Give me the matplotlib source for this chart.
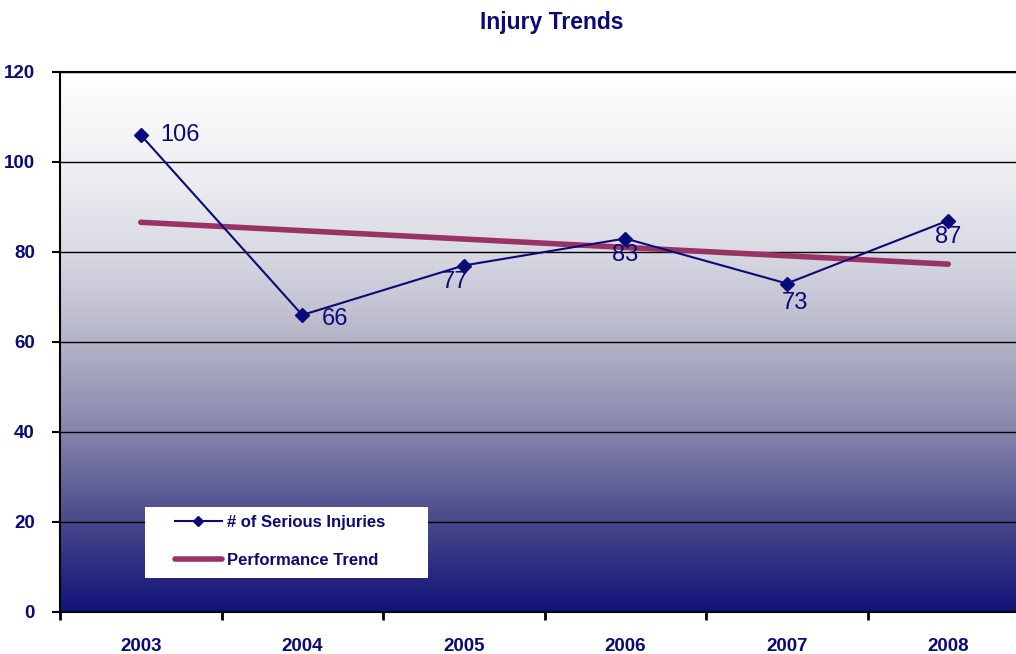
import numpy as np
import matplotlib.pyplot as plt
from matplotlib.colors import LinearSegmentedColormap
from matplotlib.patches import Rectangle

years = ['2003', '2004', '2005', '2006', '2007', '2008']
injuries = [106, 66, 77, 83, 73, 87]
trend_years = ['2003', '2008']
trend_values = [86.6, 77.3]

NAVY = '#0a0a78'
TREND = '#993366'

plt.rcParams['font.family'] = ['Liberation Sans', 'DejaVu Sans']

fig = plt.figure(figsize=(10.16, 6.54), dpi=100)
ax = fig.add_axes([60 / 1016, 42 / 654, 969 / 1016, 540 / 654])

# background gradient, white at the top to navy at the bottom
grad = LinearSegmentedColormap.from_list('bg', [
    (0.0, '#12127a'), (0.17, '#4a4a8c'), (0.33, '#8584aa'),
    (0.5, '#b4b4c8'), (0.67, '#dadae4'), (0.83, '#f0f0f4'), (1.0, '#ffffff')])
ax.imshow(np.linspace(0, 1, 256).reshape(-1, 1), cmap=grad, aspect='auto',
          extent=(-0.5, 5.5, 0, 120), origin='lower', zorder=0)

x = np.arange(len(years))
ax.plot(x, injuries, color=NAVY, lw=1.5, marker='D', ms=7,
        label='# of Serious Injuries', zorder=4)
tx = [years.index(y) for y in trend_years]
ax.plot(tx, trend_values, color=TREND, lw=4, solid_capstyle='round',
        label='Performance Trend', zorder=3)

# value labels
offsets = [(14, 0, 'left', 'center'), (14, -3, 'left', 'center'),
           (-6, -4, 'center', 'top'), (0, -4, 'center', 'top'),
           (6, -6, 'center', 'top'), (0, -4, 'center', 'top')]
for i, v in enumerate(injuries):
    dx, dy, ha, va = offsets[i]
    ax.annotate(str(v), (x[i], v), xytext=(dx, dy), textcoords='offset points',
                ha=ha, va=va, fontsize=17, color=NAVY, zorder=5)

ax.set_xlim(-0.5, 5.5)
ax.set_ylim(0, 120)
ax.set_yticks(range(0, 121, 20))
ax.yaxis.grid(True, color='black', lw=1)
ax.set_axisbelow(False)
for gl in ax.get_ygridlines():
    gl.set_zorder(1)

ax.set_xticks(x)
ax.set_xticklabels(years)
ax.set_xticks(np.arange(-0.5, 6, 1), minor=True)
ax.tick_params(axis='x', which='major', length=0, pad=19)
ax.tick_params(axis='x', which='minor', length=6, width=2, direction='out')
ax.tick_params(axis='y', length=6, width=1.5, pad=12)
for lab in ax.get_xticklabels() + ax.get_yticklabels():
    lab.set_fontweight('bold')
    lab.set_fontsize(13.5)
    lab.set_color(NAVY)

for s in ['left', 'bottom', 'top']:
    ax.spines[s].set_linewidth(1.5)
    ax.spines[s].set_color('black')
ax.spines['right'].set_visible(False)

# legend: white box plus frameless legend inside it
ax.add_patch(Rectangle((85 / 969, 34 / 540), 283 / 969, 71 / 540, transform=ax.transAxes,
                       facecolor='white', edgecolor='none', zorder=6))
leg = ax.legend(loc='center left', bbox_to_anchor=(115 / 969, 70.5 / 540),
                frameon=False, fontsize=12, handlelength=2.8, labelspacing=1.4,
                borderpad=0, handletextpad=0.3, borderaxespad=0, markerscale=0.75)
for t in leg.get_texts():
    t.set_color(NAVY)
    t.set_fontweight('bold')
leg.set_zorder(7)

fig.text(552 / 1016, 1 - 22 / 654, 'Injury Trends', ha='center', va='center',
         fontsize=16.5, fontweight='bold', color=NAVY)

fig.savefig('out.png', dpi=100)
